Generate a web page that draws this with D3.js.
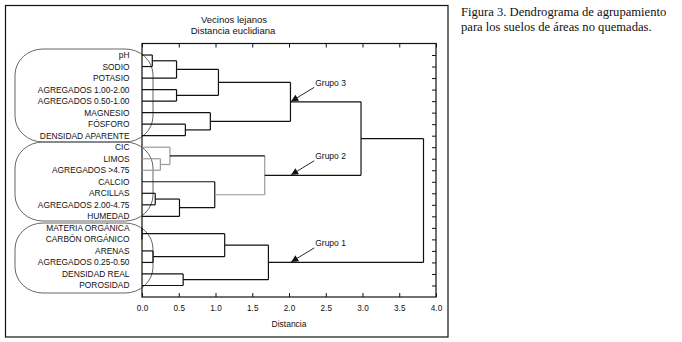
<!DOCTYPE html>
<html>
<head>
<meta charset="utf-8">
<script src="https://cdn.jsdelivr.net/npm/d3@7"></script>
<style>
body{margin:0;background:#fff;}
svg text{font-family:"Liberation Sans",Arial,sans-serif;fill:#111;}
</style>
</head>
<body>
<div id="chart"></div>
<script>
// hojas del dendrograma (de arriba a abajo)
var leaves = ["pH","SODIO","POTASIO","AGREGADOS 1.00-2.00","AGREGADOS 0.50-1.00",
  "MAGNESIO","FÓSFORO","DENSIDAD APARENTE","CIC","LIMOS","AGREGADOS >4.75",
  "CALCIO","ARCILLAS","AGREGADOS 2.00-4.75","HUMEDAD","MATERIA ORGÁNICA",
  "CARBÓN ORGÁNICO","ARENAS","AGREGADOS 0.25-0.50","DENSIDAD REAL","POROSIDAD"];

// uniones: [hijo a, hijo b, distancia]; id de la union = leaves.length + indice
var merges = [
  [15,16,0.00],[0,1,0.14],[17,18,0.15],[12,13,0.18],[9,10,0.25],
  [8,25,0.38],[22,2,0.47],[3,4,0.47],[24,14,0.51],[19,20,0.56],
  [6,7,0.59],[5,31,0.93],[11,29,0.99],[27,28,1.04],[21,23,1.125],
  [26,33,1.67],[35,30,1.72],[34,32,2.02],[38,36,2.98],[39,37,3.83]];

var xTicks = [0,0.5,1,1.5,2,2.5,3,3.5,4];
var groups = ["Grupo 3","Grupo 2","Grupo 1"];
var groupNodes = [38,36,37];   // union que senala cada flecha
var arrowAt = 2.03;             // distancia donde apunta la flecha

// tramos en gris
var greyV = [25,26,36];
var greyH = [8,9,10,25,33];

var W = 682, H = 342;
var plot = {left:142, right:436, top:43.5, bottom:297};

var svg = d3.select("#chart").append("svg")
  .attr("width",W).attr("height",H);

var x = d3.scaleLinear().domain([0,4]).range([plot.left,plot.right]);
var y = d3.scalePoint().domain(d3.range(leaves.length))
  .range([plot.top,plot.bottom]).padding(1);

// posiciones de los nodos
var n = leaves.length;
var nodeY = leaves.map(function(d,i){return y(i);});
var nodeH = leaves.map(function(){return 0;});
var parent = [];
merges.forEach(function(m,i){
  var id = n+i;
  nodeY[id] = (nodeY[m[0]]+nodeY[m[1]])/2;
  nodeH[id] = m[2];
  parent[m[0]] = id; parent[m[1]] = id;
});

// marco exterior
svg.append("rect").attr("x",5.5).attr("y",5.5).attr("width",442.5).attr("height",331.5)
  .style("fill","none").style("stroke","#111").style("stroke-width",1.2);

// cajas redondeadas de los grupos
var boxes = [[49,142],[142,221],[223,293]];
svg.selectAll("rect.box").data(boxes).enter().append("rect")
  .attr("class","box")
  .attr("x",15).attr("y",function(d){return d[0];})
  .attr("width",138).attr("height",function(d){return d[1]-d[0];})
  .attr("rx",28).attr("ry",26)
  .style("fill","none").style("stroke","#555").style("stroke-width",0.9);

// titulo
svg.append("text").attr("x",234).attr("y",23).attr("text-anchor","middle")
  .style("font-size","9.5px").text("Vecinos lejanos");
svg.append("text").attr("x",233).attr("y",33.5).attr("text-anchor","middle")
  .style("font-size","9.5px").text("Distancia euclidiana");

// ejes
var g = svg.append("g");
g.append("g").attr("transform","translate(0,"+plot.bottom+")")
  .call(d3.axisBottom(x).tickValues(xTicks).tickSizeInner(-4).tickSizeOuter(0)
    .tickFormat(d3.format(".1f")).tickPadding(8))
  .call(function(a){a.select(".domain").remove();
    a.selectAll("text").style("font-size","8.2px").style("font-family","Liberation Sans");});
g.append("g").attr("transform","translate(0,"+plot.top+")")
  .call(d3.axisTop(x).tickValues(xTicks).tickSizeInner(-4).tickSizeOuter(0).tickFormat(""))
  .call(function(a){a.select(".domain").remove();});
g.append("g").attr("transform","translate("+plot.right+",0)")
  .call(d3.axisRight(y).tickSizeInner(-4).tickSizeOuter(0).tickFormat(""))
  .call(function(a){a.select(".domain").remove();});
g.selectAll(".tick line").style("stroke","#111");

g.append("rect").attr("x",plot.left).attr("y",plot.top)
  .attr("width",plot.right-plot.left).attr("height",plot.bottom-plot.top)
  .style("fill","none").style("stroke","#111").style("stroke-width",1.2);

svg.append("text").attr("x",289).attr("y",327).attr("text-anchor","middle")
  .style("font-size","8.5px").text("Distancia");

// etiquetas de las hojas
svg.selectAll("text.leaf").data(leaves).enter().append("text")
  .attr("class","leaf")
  .attr("x",129.5).attr("y",function(d,i){return y(i)+3;})
  .attr("text-anchor","end")
  .style("font-size","8.4px")
  .text(function(d){return d;});

// lineas del dendrograma
var lines = svg.append("g").style("stroke-width",1.2).style("fill","none");
function col(list,id){return list.indexOf(id)>=0 ? "#999" : "#111";}
merges.forEach(function(m,i){
  var id = n+i;
  lines.append("line")
    .attr("x1",x(m[2])).attr("x2",x(m[2]))
    .attr("y1",nodeY[m[0]]).attr("y2",nodeY[m[1]])
    .style("stroke",col(greyV,id));
});
nodeY.forEach(function(yy,id){
  if(parent[id]===undefined) return;
  lines.append("line")
    .attr("x1",x(nodeH[id])).attr("x2",x(nodeH[parent[id]]))
    .attr("y1",yy).attr("y2",yy)
    .style("stroke",col(greyH,id));
});

// flechas de los grupos
svg.append("defs").append("marker").attr("id","arr")
  .attr("viewBox","0 0 10 10").attr("refX",10).attr("refY",5)
  .attr("markerWidth",9).attr("markerHeight",7).attr("markerUnits","userSpaceOnUse")
  .attr("orient","auto")
  .append("path").attr("d","M0,0L10,5L0,10Z").style("fill","#111");

groups.forEach(function(name,i){
  var tipX = x(arrowAt);
  var tipY = nodeY[groupNodes[i]] - 0.5;
  var lx = tipX + 23, ly = tipY - 14;
  svg.append("line").attr("x1",lx).attr("y1",ly).attr("x2",tipX).attr("y2",tipY)
    .style("stroke","#111").style("stroke-width",0.9).attr("marker-end","url(#arr)");
  svg.append("text").attr("x",lx+1).attr("y",ly-1.5)
    .style("font-size","8.5px").text(name);
});

// pie de figura
var cap = svg.append("text").attr("x",461)
  .style("font-family","Liberation Serif, serif").style("font-size","12.6px");
cap.append("tspan").attr("x",461).attr("y",16).text("Figura 3. Dendrograma de agrupamiento");
cap.append("tspan").attr("x",461).attr("y",30.5).text("para los suelos de áreas no quemadas.");
</script>
</body>
</html>
